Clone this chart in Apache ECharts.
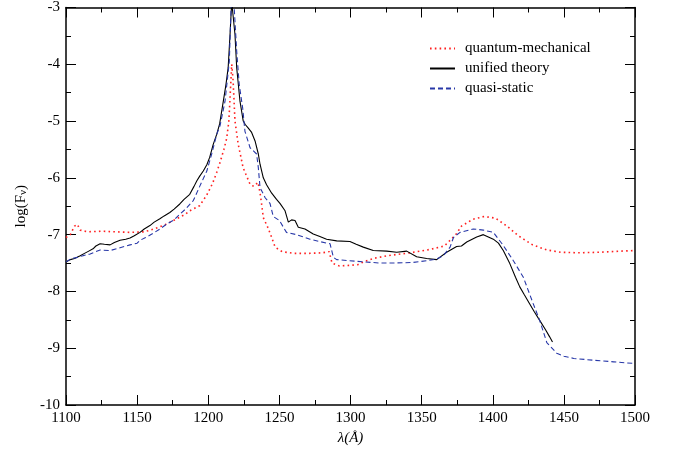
<!DOCTYPE html>
<html><head><meta charset="utf-8">
<script src="https://cdn.jsdelivr.net/npm/echarts@6/dist/echarts.min.js"></script>
<style>html,body{margin:0;padding:0;background:#fff}#c{width:681px;height:451px}</style>
</head><body><div id="c"></div>
<script>
var xTicks = [1100,1150,1200,1250,1300,1350,1400,1450,1500];
var yTicks = [-10,-9,-8,-7,-6,-5,-4,-3];

var qmLambda = [1100,1103,1106,1108,1110,1115,1125,1135,1145,1155,1162,1170,1178,1184,1187,1194,1199,1203,1206,1208,1211,1213,1214.5,1215.5,1216.5,1217.5,1218.8,1221,1224.5,1229.5,1232,1235,1236.5,1237.5,1238.7,1242,1244.6,1247,1252,1260,1270,1280,1285,1287,1292,1300,1305,1310,1316,1326,1342,1356,1366,1370,1374,1378,1386,1394,1402,1410,1418,1428,1438,1448,1460,1475,1490,1500];
var qmValues = [-7.05,-7.0,-6.85,-6.82,-6.92,-6.95,-6.94,-6.95,-6.96,-6.95,-6.9,-6.82,-6.72,-6.64,-6.58,-6.49,-6.3,-6.1,-5.9,-5.75,-5.5,-5.3,-5.0,-4.5,-4.0,-4.3,-5.0,-5.4,-5.82,-6.12,-6.15,-6.08,-6.28,-6.46,-6.7,-6.88,-7.05,-7.22,-7.3,-7.33,-7.33,-7.32,-7.3,-7.5,-7.55,-7.54,-7.53,-7.47,-7.42,-7.37,-7.32,-7.26,-7.2,-7.1,-7.0,-6.85,-6.73,-6.68,-6.71,-6.85,-7.02,-7.18,-7.27,-7.31,-7.32,-7.31,-7.29,-7.28];

var utLambda = [1100,1103,1106,1110,1113,1116,1119,1121,1124,1127,1131,1134,1138,1142,1145,1148,1152,1155,1159,1162,1166,1169,1173,1176,1180,1183,1187,1190,1192,1194,1196.5,1199,1201,1203.5,1206,1208,1210.6,1212.5,1214,1215.3,1216.5,1217.6,1218.8,1220,1222.3,1224.6,1226,1228,1230.5,1232.9,1235.2,1236.4,1238.7,1241,1244.6,1248,1250.4,1254,1256.3,1258.6,1261,1263.3,1268,1273.8,1278,1283.2,1290.3,1299.6,1304,1309,1316,1325.5,1332.5,1339.5,1346.5,1353.5,1360.6,1367.6,1374.6,1378,1381.7,1388.7,1393.4,1400.4,1404,1407.4,1412,1416,1419,1422,1426,1429,1433,1437,1440,1442];
var utValues = [-7.48,-7.44,-7.42,-7.37,-7.33,-7.29,-7.25,-7.2,-7.16,-7.17,-7.18,-7.14,-7.1,-7.08,-7.06,-7.02,-6.96,-6.9,-6.84,-6.78,-6.72,-6.67,-6.61,-6.55,-6.46,-6.38,-6.29,-6.15,-6.05,-5.97,-5.88,-5.77,-5.64,-5.41,-5.23,-5.05,-4.65,-4.35,-4.06,-3.48,-2.9,-2.9,-3.48,-4.06,-4.65,-5.0,-5.06,-5.12,-5.2,-5.35,-5.58,-5.76,-6.0,-6.12,-6.27,-6.38,-6.45,-6.58,-6.78,-6.74,-6.75,-6.87,-6.9,-6.99,-7.03,-7.08,-7.11,-7.12,-7.17,-7.22,-7.28,-7.29,-7.31,-7.29,-7.39,-7.42,-7.44,-7.31,-7.21,-7.2,-7.13,-7.04,-7.0,-7.08,-7.15,-7.28,-7.51,-7.75,-7.92,-8.05,-8.22,-8.35,-8.51,-8.67,-8.8,-8.89];

var qsLambda = [1100,1104,1108,1112,1117,1121,1124,1131,1138,1145,1150,1152,1156,1161,1166,1171,1176,1180,1184,1189.5,1194,1199,1202.4,1206,1208.3,1211.8,1214.8,1216.2,1218,1220,1221.8,1224.2,1225.8,1229.4,1234,1235.2,1236.4,1240,1243.4,1245.7,1250,1255,1262,1271.5,1283.2,1285.6,1288,1290.3,1304.3,1320.7,1330,1344,1353.5,1360.6,1365.3,1370,1372.4,1377,1386.3,1393.4,1400.4,1407.4,1414.5,1421.5,1428.5,1433,1438,1445,1450,1457,1470,1485,1500];
var qsValues = [-7.48,-7.42,-7.4,-7.37,-7.34,-7.3,-7.27,-7.28,-7.23,-7.18,-7.15,-7.1,-7.05,-6.98,-6.9,-6.81,-6.74,-6.64,-6.55,-6.4,-6.15,-5.88,-5.58,-5.23,-5.08,-4.65,-3.95,-2.9,-2.9,-3.77,-4.36,-4.77,-5.18,-5.47,-5.58,-5.82,-6.17,-6.35,-6.45,-6.68,-6.75,-6.96,-7.0,-7.08,-7.15,-7.16,-7.4,-7.44,-7.47,-7.5,-7.5,-7.49,-7.46,-7.43,-7.37,-7.22,-7.05,-6.96,-6.9,-6.92,-6.96,-7.19,-7.46,-7.75,-8.22,-8.51,-8.9,-9.09,-9.14,-9.18,-9.21,-9.24,-9.27];

var seriesNames = ['quantum-mechanical','unified theory','quasi-static'];

function zip(a,b){return a.map(function(x,i){return [x,b[i]];});}

var font = 'Liberation Serif';
var axisBase = {
  min: 1100, max: 1500, interval: 50, type: 'value',
  axisLine: {show: true, onZero: false, lineStyle: {color: '#000', width: 1.5}},
  axisTick: {show: true, inside: true, length: 10, lineStyle: {color: '#000', width: 1}},
  minorTick: {show: true, splitNumber: 2, length: 5, lineStyle: {color: '#000', width: 1}},
  splitLine: {show: false}
};
var yBase = {
  min: -10, max: -3, interval: 1, type: 'value',
  axisLine: {show: true, onZero: false, lineStyle: {color: '#000', width: 1.5}},
  axisTick: {show: true, inside: true, length: 10, lineStyle: {color: '#000', width: 1}},
  minorTick: {show: true, splitNumber: 2, length: 5, lineStyle: {color: '#000', width: 1}},
  splitLine: {show: false}
};

var chart = echarts.init(document.getElementById('c'), null, {renderer: 'canvas'});
chart.setOption({
  animation: false,
  backgroundColor: '#fff',
  grid: {left: 66, top: 6, right: 46, bottom: 46},
  legend: {
    left: 424, top: 36, orient: 'vertical', itemWidth: 25, itemHeight: 10, itemGap: 5,
    itemStyle: {opacity: 0},
    textStyle: {fontFamily: font, fontSize: 15, color: '#000', padding: [0, 0, 0, 5]},
    data: seriesNames
  },
  xAxis: [
    Object.assign({}, axisBase, {
      position: 'bottom',
      name: 'λ(Å)', nameLocation: 'middle', nameGap: 26,
      nameTextStyle: {fontFamily: font, fontSize: 15, fontStyle: 'italic', color: '#000'},
      axisLabel: {fontFamily: font, fontSize: 15, color: '#000', margin: 6,
        formatter: function(v){ return xTicks.indexOf(v) >= 0 ? String(v) : ''; }}
    }),
    Object.assign({}, axisBase, {position: 'top', axisLabel: {show: false}})
  ],
  yAxis: [
    Object.assign({}, yBase, {
      position: 'left',
      name: '{a|log(F}{b|ν}{a|)}', nameLocation: 'middle', nameGap: 35, nameRotate: 90,
      nameTextStyle: {rich: {
        a: {fontFamily: font, fontSize: 15, color: '#000'},
        b: {fontFamily: font, fontSize: 11, color: '#000', verticalAlign: 'bottom', padding: [6,0,0,0]}
      }},
      axisLabel: {fontFamily: font, fontSize: 15, color: '#000', margin: 6,
        formatter: function(v){ return yTicks.indexOf(v) >= 0 ? String(v) : ''; }}
    }),
    Object.assign({}, yBase, {position: 'right', axisLabel: {show: false}})
  ],
  series: [
    {name: seriesNames[0], type: 'line', data: zip(qmLambda, qmValues), symbol: 'none', clip: true,
     itemStyle: {color: '#ff2020'},
     lineStyle: {color: '#ff2020', width: 1.6, type: [1.6, 3.2]}},
    {name: seriesNames[1], type: 'line', data: zip(utLambda, utValues), symbol: 'none', clip: true,
     itemStyle: {color: '#000'},
     lineStyle: {color: '#000', width: 1.1, type: 'solid'}},
    {name: seriesNames[2], type: 'line', data: zip(qsLambda, qsValues), symbol: 'none', clip: true,
     itemStyle: {color: '#2838a8'},
     lineStyle: {color: '#2838a8', width: 1.1, type: [5, 3]}}
  ]
});
</script></body></html>
